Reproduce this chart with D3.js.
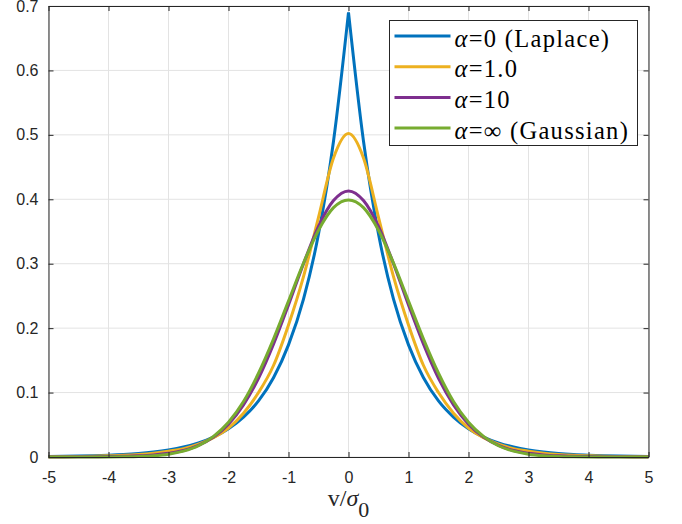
<!DOCTYPE html>
<html>
<head>
<meta charset="utf-8">
<script src="https://d3js.org/d3.v7.min.js"></script>
<style>
  body { margin: 0; background: #fff; }
  svg { display: block; }
  .tick text { font-family: "Liberation Sans", Arial, sans-serif; font-size: 16px; fill: #262626; }
</style>
</head>
<body>
<svg width="682" height="524"></svg>
<script>
// sample points along v/sigma0
var xs = [-5, -4.75, -4.5, -4.25, -4, -3.75, -3.5, -3.25, -3, -2.75, -2.5, -2.25, -2, -1.75, -1.5, -1.25, -1, -0.75, -0.5, -0.25,
  0, 0.25, 0.5, 0.75, 1, 1.25, 1.5, 1.75, 2, 2.25, 2.5, 2.75, 3, 3.25, 3.5, 3.75, 4, 4.25, 4.5, 4.75, 5];

var laplace = [0.0007, 0.0010, 0.0014, 0.0020, 0.0028, 0.0039, 0.0055, 0.0078, 0.011, 0.0155, 0.022, 0.031, 0.044, 0.062, 0.087, 0.123, 0.174, 0.245, 0.346, 0.490,
  0.690, 0.490, 0.346, 0.245, 0.174, 0.123, 0.087, 0.062, 0.044, 0.031, 0.022, 0.0155, 0.011, 0.0078, 0.0055, 0.0039, 0.0028, 0.0020, 0.0014, 0.0010, 0.0007];

var alpha1 = [0.0004, 0.0005, 0.0008, 0.0012, 0.0019, 0.0027, 0.004, 0.006, 0.009, 0.013, 0.020, 0.030, 0.045, 0.068, 0.100, 0.142, 0.205, 0.280, 0.372, 0.464,
  0.502, 0.464, 0.372, 0.280, 0.205, 0.142, 0.100, 0.068, 0.045, 0.030, 0.020, 0.013, 0.009, 0.006, 0.004, 0.0027, 0.0019, 0.0012, 0.0008, 0.0005, 0.0004];

var alpha10 = [0.0001, 0.0001, 0.0002, 0.0004, 0.0006, 0.0011, 0.0019, 0.0033, 0.0058, 0.010, 0.018, 0.031, 0.051, 0.081, 0.122, 0.175, 0.236, 0.300, 0.358, 0.398,
  0.413, 0.398, 0.358, 0.300, 0.236, 0.175, 0.122, 0.081, 0.051, 0.031, 0.018, 0.010, 0.0058, 0.0033, 0.0019, 0.0011, 0.0006, 0.0004, 0.0002, 0.0001, 0.0001];

var gaussian = [0, 0, 0, 0, 0.0001, 0.0004, 0.0009, 0.0020, 0.0044, 0.0091, 0.0175, 0.032, 0.054, 0.086, 0.130, 0.183, 0.242, 0.301, 0.352, 0.387,
  0.399, 0.387, 0.352, 0.301, 0.242, 0.183, 0.130, 0.086, 0.054, 0.032, 0.0175, 0.0091, 0.0044, 0.0020, 0.0009, 0.0004, 0.0001, 0, 0, 0, 0];

var seriesNames = ["\u03b1=0 (Laplace)", "\u03b1=1.0", "\u03b1=10", "\u03b1=\u221e (Gaussian)"];
var seriesColors = ["#0072BD", "#EDB120", "#7E2F8E", "#77AC30"];
var xTicks = [-5, -4, -3, -2, -1, 0, 1, 2, 3, 4, 5];
var yTicks = [0, 0.1, 0.2, 0.3, 0.4, 0.5, 0.6, 0.7];

var svg = d3.select("svg"),
    margin = {top: 6, right: 33.5, bottom: 67, left: 48.5},
    width = +svg.attr("width") - margin.left - margin.right,
    height = +svg.attr("height") - margin.top - margin.bottom,
    g = svg.append("g").attr("transform", "translate(" + margin.left + "," + margin.top + ")");

var x = d3.scaleLinear().domain([-5, 5]).range([0, width]);
var y = d3.scaleLinear().domain([0, 0.7]).range([height, 0]);

// grid
g.append("g")
    .selectAll("line.vg")
    .data(xTicks)
  .enter().append("line")
    .attr("x1", function(d) { return x(d); })
    .attr("x2", function(d) { return x(d); })
    .attr("y1", 0).attr("y2", height)
    .attr("stroke", "#e3e3e3");
g.append("g")
    .selectAll("line.hg")
    .data(yTicks)
  .enter().append("line")
    .attr("y1", function(d) { return y(d); })
    .attr("y2", function(d) { return y(d); })
    .attr("x1", 0).attr("x2", width)
    .attr("stroke", "#e3e3e3");

// curves
var line = d3.line()
    .x(function(d) { return x(d[0]); })
    .y(function(d) { return y(d[1]); })
    .curve(d3.curveMonotoneX);

var allSeries = [laplace, alpha1, alpha10, gaussian];
allSeries.forEach(function(vals, i) {
  var pts = xs.map(function(v, j) { return [v, vals[j]]; });
  var d;
  if (i === 0) {
    // keep the cusp at the peak sharp
    var mid = xs.indexOf(0);
    d = line(pts.slice(0, mid + 1)) + line(pts.slice(mid)).replace(/^M/, "L");
  } else {
    d = line(pts);
  }
  g.append("path")
      .attr("d", d)
      .attr("fill", "none")
      .attr("stroke", seriesColors[i])
      .attr("stroke-width", 3)
      .attr("stroke-linejoin", "miter");
});

// axes
var fmtY = function(d) { return d === 0 ? "0" : d3.format(".1f")(d); };

g.append("g")
    .attr("transform", "translate(0," + height + ")")
    .call(d3.axisBottom(x).tickValues(xTicks).tickSize(-5).tickSizeOuter(0).tickPadding(15).tickFormat(function(d) { return String(d); }));
g.append("g")
    .call(d3.axisTop(x).tickValues(xTicks).tickSize(-5).tickSizeOuter(0).tickFormat(""));
g.append("g")
    .call(d3.axisLeft(y).tickValues(yTicks).tickSize(-5).tickSizeOuter(0).tickPadding(10).tickFormat(fmtY));
g.append("g")
    .attr("transform", "translate(" + width + ",0)")
    .call(d3.axisRight(y).tickValues(yTicks).tickSize(-5).tickSizeOuter(0).tickFormat(""));

g.selectAll(".domain, .tick line").attr("stroke", "#262626").attr("stroke-width", 1);

// x label
var xl = svg.append("text")
    .attr("x", 348.5)
    .attr("y", 506)
    .attr("text-anchor", "middle")
    .attr("font-family", "'Liberation Serif', 'Times New Roman', serif")
    .attr("font-size", 24)
    .attr("fill", "#262626");
xl.append("tspan").text("v/");
xl.append("tspan").attr("font-style", "italic").text("\u03c3");
xl.append("tspan").attr("font-size", 22).attr("dy", 11).text("0");

// legend
var legend = svg.append("g").attr("transform", "translate(389.5,20.5)");
legend.append("rect")
    .attr("width", 248).attr("height", 125)
    .attr("fill", "#fff")
    .attr("stroke", "#262626")
    .attr("stroke-width", 1);

var rows = legend.selectAll("g.row")
    .data(seriesNames)
  .enter().append("g")
    .attr("transform", function(d, i) { return "translate(0," + (15.5 + i * 30.7) + ")"; });

rows.append("line")
    .attr("x1", 5).attr("x2", 61)
    .attr("stroke", function(d, i) { return seriesColors[i]; })
    .attr("stroke-width", 3);

rows.append("text")
    .attr("x", 65)
    .attr("y", 10.5)
    .attr("font-family", "'Liberation Serif', 'Times New Roman', serif")
    .attr("font-size", 24.5)
    .attr("letter-spacing", 1.3)
    .attr("fill", "#000")
    .each(function(d) {
      var t = d3.select(this);
      t.append("tspan").attr("font-style", "italic").text(d.charAt(0));
      t.append("tspan").text(d.slice(1));
    });
</script>
</body>
</html>
